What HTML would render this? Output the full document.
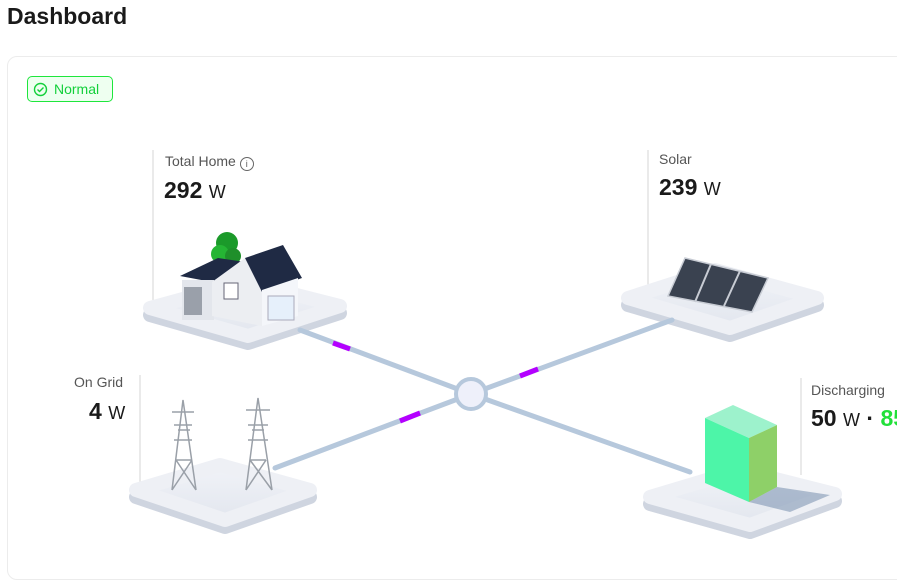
<!DOCTYPE html>
<html><head><meta charset="utf-8"><style>
body{margin:0;width:897px;height:582px;overflow:hidden;background:#fff;font-family:"Liberation Sans",sans-serif;position:relative}
.t{position:absolute;color:#555;font-size:14px}
.v{position:absolute;color:#1a1a1a;font-size:23px;font-weight:bold}
.v span{font-weight:normal;font-size:18px}
</style></head><body>
<div style="position:absolute;left:7px;top:3px;font-size:23px;font-weight:bold;color:#1a1a1a">Dashboard</div>
<div style="position:absolute;left:7px;top:56px;width:900px;height:522px;border:1px solid #ececec;border-radius:10px"></div>
<div style="position:absolute;left:27px;top:76px;width:86px;height:26px;border:1.5px solid #1ee63c;border-radius:5px;background:#eefff0;color:#13d03a;font-size:14px;line-height:24px;box-sizing:border-box;padding-left:26px">Normal</div>
<svg style="position:absolute;left:33px;top:82px" width="15" height="15"><circle cx="7.5" cy="7.5" r="6" fill="none" stroke="#13d03a" stroke-width="1.4"/><path d="M4.5 7.5l2 2 4-4" fill="none" stroke="#13d03a" stroke-width="1.4"/></svg>
<svg style="position:absolute;left:0;top:0" width="897" height="582">
<defs><linearGradient id="pl" x1="0" y1="0" x2="0" y2="1"><stop offset="0" stop-color="#f1f3f8"/><stop offset="1" stop-color="#e2e6ee"/></linearGradient></defs>
<g stroke="#d6d6d6" stroke-width="1"><line x1="153" y1="150" x2="153" y2="300"/><line x1="648" y1="150" x2="648" y2="300"/><line x1="140" y1="375" x2="140" y2="485"/><line x1="801" y1="378" x2="801" y2="475"/></g>
<g stroke-linejoin="round" stroke-width="14">
<polygon points="150,315 245,289 340,313 248,343" fill="#cfd5e0" stroke="#cfd5e0"/>
<polygon points="150,308 245,282 340,306 248,336" fill="url(#pl)" stroke="#eef0f5"/>
<polygon points="628,305 715,277 817,305 730,335" fill="#cfd5e0" stroke="#cfd5e0"/>
<polygon points="628,298 715,270 817,298 730,328" fill="url(#pl)" stroke="#eef0f5"/>
<polygon points="136,497 220,472 310,497 225,527" fill="#cfd5e0" stroke="#cfd5e0"/>
<polygon points="136,490 220,465 310,490 225,520" fill="url(#pl)" stroke="#eef0f5"/>
<polygon points="650,504 740,477 835,501 750,532" fill="#cfd5e0" stroke="#cfd5e0"/>
<polygon points="650,497 740,470 835,494 750,525" fill="url(#pl)" stroke="#eef0f5"/>
</g>
<g stroke="#b6c8dc" stroke-width="5" stroke-linecap="round">
<line x1="300" y1="330" x2="471" y2="394"/><line x1="672" y1="320" x2="471" y2="394"/>
<line x1="275" y1="468" x2="471" y2="394"/><line x1="690" y1="472" x2="471" y2="394"/>
</g>
<g stroke="#b400ff" stroke-width="5"><line x1="333" y1="343" x2="350" y2="349"/><line x1="520" y1="376" x2="538" y2="369"/><line x1="400" y1="421" x2="420" y2="413"/></g>
<circle cx="471" cy="394" r="15" fill="#eef0fa" stroke="#b6c8dc" stroke-width="4"/>
<!-- house -->
<circle cx="227" cy="243" r="11" fill="#1b9a2a"/><circle cx="220" cy="254" r="9" fill="#25b534"/><circle cx="233" cy="256" r="8" fill="#1f8f2a"/>
<polygon points="180,276 218,258 245,262 212,282" fill="#1f2a44"/>
<rect x="182" y="280" width="32" height="40" fill="#e3e6ec"/><rect x="184" y="287" width="18" height="28" fill="#9aa0aa"/>
<polygon points="212,282 245,258 262,282 262,326 212,316" fill="#eceef2"/>
<polygon points="245,258 283,245 302,278 262,292" fill="#1f2a44"/>
<polygon points="262,290 298,278 298,316 262,326" fill="#f4f6fa"/>
<rect x="268" y="296" width="26" height="24" fill="#e6f0fb" stroke="#aab" stroke-width="1"/>
<rect x="224" y="283" width="14" height="16" fill="#fff" stroke="#667" stroke-width="1"/>
<!-- solar -->
<polygon points="668,296 685,258 768,278 752,312" fill="#3a4250" stroke="#c8ccd4" stroke-width="1.5"/>
<line x1="711" y1="264" x2="695" y2="302" stroke="#c8ccd4" stroke-width="2"/><line x1="740" y1="271" x2="724" y2="306" stroke="#c8ccd4" stroke-width="2"/>
<!-- towers -->
<g stroke="#9aa0a8" stroke-width="1.5" fill="none">
<path d="M172 490 L183 400 L196 490 M176 460 L192 460 M178 430 L190 430 M172 412 L194 412 M174 425 L192 425 M174 440 L192 440 M172 490 L192 460 M196 490 L176 460"/>
<path d="M246 490 L258 398 L272 490 M250 460 L266 460 M252 430 L264 430 M246 410 L270 410 M248 425 L268 425 M248 440 L268 440 M246 490 L266 460 M272 490 L250 460"/>
</g>
<!-- battery -->
<polygon points="705,418 733,405 777,425 749,438" fill="#9df2cc"/>
<polygon points="705,418 749,438 749,502 705,483" fill="#4df5a8"/>
<polygon points="749,438 777,425 777,487 749,502" fill="#8ed068"/>
<polygon points="749,502 777,487 830,495 790,512" fill="#6b86a8" opacity=".5"/>
</svg>
<div class="t" style="left:165px;top:153px">Total Home <span style="display:inline-block;width:12px;height:12px;border:1.2px solid #666;border-radius:50%;font-size:9px;line-height:12px;text-align:center;vertical-align:-1px">i</span></div>
<div class="v" style="left:164px;top:177px">292 <span>W</span></div>
<div class="t" style="left:659px;top:151px">Solar</div>
<div class="v" style="left:659px;top:174px">239 <span>W</span></div>
<div class="t" style="left:74px;top:374px">On Grid</div>
<div class="v" style="left:89px;top:398px">4 <span>W</span></div>
<div class="t" style="left:811px;top:382px;white-space:nowrap">Discharging</div>
<div class="v" style="left:811px;top:405px;white-space:nowrap">50 <span>W</span> · <b style="color:#22e03a">85</b></div>
</body></html>
